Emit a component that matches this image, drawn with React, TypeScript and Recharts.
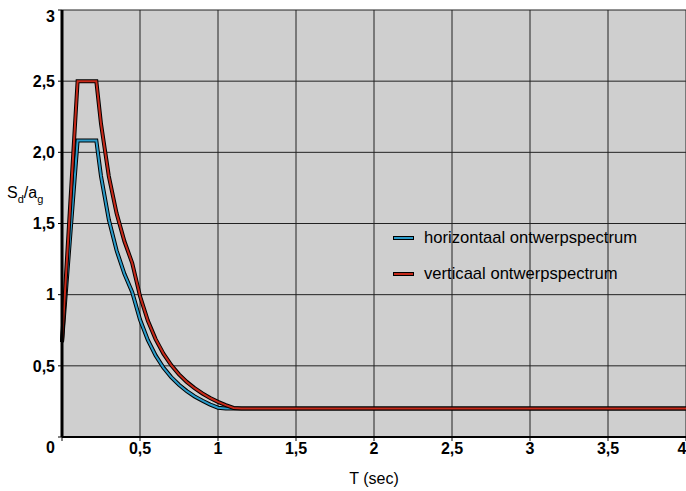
import React from "react";
import {
  LineChart,
  Line,
  XAxis,
  YAxis,
  CartesianGrid,
  Legend,
} from "recharts";

// period T (sec)
const periods = [
  0, 0.1, 0.22, 0.25, 0.3, 0.35, 0.4, 0.45, 0.5, 0.55, 0.6, 0.65, 0.7, 0.75,
  0.8, 0.85, 0.9, 0.95, 1.0, 1.05, 1.1, 1.15, 4,
];
// Sd/ag horizontaal
const horizontal = [
  0.667, 2.083, 2.083, 1.833, 1.528, 1.31, 1.146, 1.018, 0.825, 0.682, 0.573,
  0.488, 0.421, 0.367, 0.322, 0.285, 0.255, 0.228, 0.206, 0.2, 0.2, 0.2, 0.2,
];
// Sd/ag verticaal
const vertical = [
  0.667, 2.5, 2.5, 2.2, 1.833, 1.571, 1.375, 1.222, 0.99, 0.818, 0.688, 0.586,
  0.505, 0.44, 0.387, 0.343, 0.306, 0.274, 0.247, 0.224, 0.204, 0.2, 0.2,
];

const xTicks = [0, 0.5, 1, 1.5, 2, 2.5, 3, 3.5, 4];
const xTickLabels = ["", "0,5", "1", "1,5", "2", "2,5", "3", "3,5", "4"];
const yTicks = [0, 0.5, 1, 1.5, 2, 2.5, 3];
const yTickLabels = ["0", "0,5", "1", "1,5", "2,0", "2,5", "3"];

const seriesNames = ["horizontaal ontwerpspectrum", "verticaal ontwerpspectrum"];

const BLUE = "#2a9bc9";
const RED = "#c62a1a";
const FONT = "'Liberation Sans', Arial, sans-serif";

const rows = periods.map((t, i) => ({ t, h: horizontal[i], v: vertical[i] }));

function YTick(props: any) {
  const { x, y, payload } = props;
  const i = yTicks.indexOf(payload.value);
  const shift = payload.value === 3 ? 6 : payload.value === 0 ? 10 : 0;
  return (
    <text
      x={x}
      y={y + shift}
      dy="0.355em"
      textAnchor="end"
      fontFamily={FONT}
      fontSize={16}
      fontWeight="bold"
      fill="#000"
    >
      {yTickLabels[i]}
    </text>
  );
}

function YLabel() {
  return (
    <text x={7} y={198} fontFamily={FONT} fontSize={16} fill="#000">
      S
      <tspan fontSize={11} dy={5}>d</tspan>
      <tspan dy={-5}>/a</tspan>
      <tspan fontSize={11} dy={5}>g</tspan>
    </text>
  );
}

function LegendBox() {
  const colors = [BLUE, RED];
  return (
    <div style={{ fontFamily: FONT, fontSize: 16.6, color: "#000" }}>
      {seriesNames.map((name, i) => (
        <div
          key={name}
          style={{ display: "flex", alignItems: "center", height: 36 }}
        >
          <svg width={24} height={8} style={{ marginRight: 8 }}>
            <line x1={1} y1={4} x2={22} y2={4} stroke="#000" strokeWidth={4} />
            <line x1={2} y1={4} x2={21} y2={4} stroke={colors[i]} strokeWidth={2} />
          </svg>
          <span>{name}</span>
        </div>
      ))}
    </div>
  );
}

export default function App() {
  return (
    <div style={{ position: "absolute", left: 0, top: 0 }}>
      <LineChart
        width={686}
        height={491}
        data={rows}
        margin={{ top: 10, right: 0, bottom: 0, left: 0 }}
      >
        <CartesianGrid stroke="#222" fill="#cfcfcf" fillOpacity={1} />
        <XAxis
          dataKey="t"
          type="number"
          domain={[0, 4]}
          ticks={xTicks}
          height={54}
          tickFormatter={(v: number) => xTickLabels[xTicks.indexOf(v)]}
          tick={{ fill: "#000", fontSize: 16, fontWeight: "bold", fontFamily: FONT }}
          axisLine={{ stroke: "#000", strokeWidth: 2 }}
          tickLine={{ stroke: "#000" }}
          tickSize={4}
          tickMargin={2}
          label={{
            value: "T (sec)",
            position: "insideBottom",
            offset: 7,
            fill: "#000",
            fontSize: 16,
            fontFamily: FONT,
          }}
        />
        <YAxis
          type="number"
          domain={[0, 3]}
          ticks={yTicks}
          width={62}
          tick={<YTick />}
          axisLine={{ stroke: "#000", strokeWidth: 3 }}
          tickLine={{ stroke: "#000" }}
          tickSize={4}
          tickMargin={3}
          label={<YLabel />}
        />
        <Legend
          layout="vertical"
          align="center"
          verticalAlign="middle"
          content={() => <LegendBox />}
          wrapperStyle={{ left: 392, top: 220, width: 290 }}
        />
        <Line dataKey="h" stroke="#000" strokeWidth={4} dot={false} activeDot={false} legendType="none" isAnimationActive={false} />
        <Line dataKey="h" stroke={BLUE} strokeWidth={2} dot={false} activeDot={false} isAnimationActive={false} />
        <Line dataKey="v" stroke="#000" strokeWidth={4} dot={false} activeDot={false} legendType="none" isAnimationActive={false} />
        <Line dataKey="v" stroke={RED} strokeWidth={2} dot={false} activeDot={false} isAnimationActive={false} />
      </LineChart>
    </div>
  );
}
